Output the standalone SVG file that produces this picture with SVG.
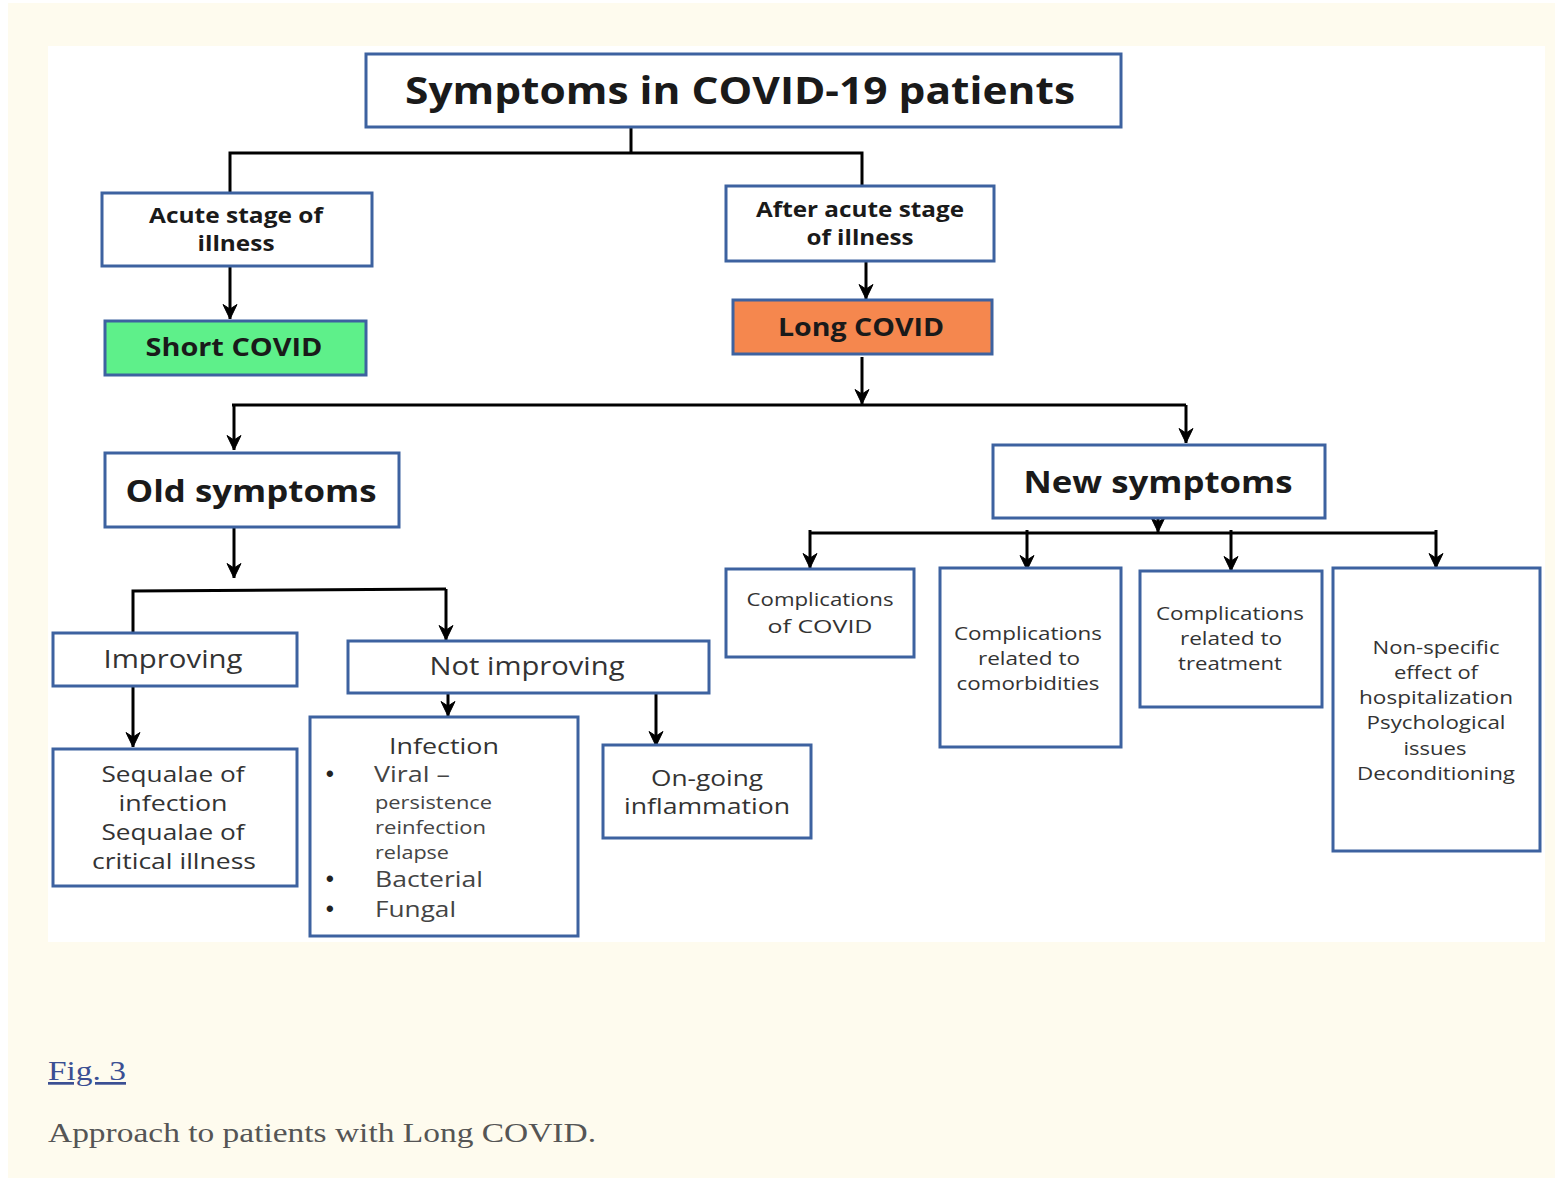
<svg xmlns="http://www.w3.org/2000/svg" width="1555" height="1178" viewBox="0 0 1555 1178">
<defs>
<marker id="ah" markerWidth="16" markerHeight="16" refX="15" refY="8" orient="auto" markerUnits="userSpaceOnUse" viewBox="0 0 16 16">
<path d="M0.5,1 L15,8 L0.5,15 L5,8 Z" fill="#000" stroke="#000" stroke-width="1" stroke-linejoin="round"/>
</marker>
<style>
.box{fill:#fff;stroke:#3d62a0;stroke-width:3}
.c{fill:none;stroke:#000;stroke-width:3}
.a{fill:none;stroke:#000;stroke-width:3;marker-end:url(#ah)}
.b{font-family:"Open Sans","Liberation Sans",sans-serif;font-weight:bold;fill:#1a1a1a;text-anchor:middle}
.r{font-family:"Open Sans","Liberation Sans",sans-serif;fill:#333;text-anchor:middle}
.s{font-family:"Open Sans","Liberation Sans",sans-serif;fill:#444}
.d{font-family:"Liberation Sans",sans-serif;font-weight:bold;fill:#222}
</style>
</defs>
<rect x="0" y="0" width="1555" height="1178" fill="#fff"/>
<rect x="8" y="3" width="1547" height="1175" fill="#fefbee"/>
<rect x="48" y="46" width="1497" height="896" fill="#fff"/>

<g id="connectors">
<path class="c" d="M631,127 V153 M230,192 V153 H862 V186"/>
<path class="a" d="M230,266 V319"/>
<path class="a" d="M866,261 V299"/>
<path class="a" d="M862,357 V404"/>
<path class="c" d="M232,405 H1186"/>
<path class="a" d="M234,405 V450"/>
<path class="a" d="M1186,405 V443"/>
<path class="a" d="M234,527 V578"/>
<path class="c" d="M133,632 V591 L446,589"/>
<path class="a" d="M446,589 V640"/>
<path class="a" d="M133,686 V747"/>
<path class="a" d="M448,693 V716"/>
<path class="a" d="M656,693 V746"/>
<path class="a" d="M1158,518 V532"/>
<path class="c" d="M810,533 H1436"/>
<path class="a" d="M810,530 V568"/>
<path class="a" d="M1027,530 V570"/>
<path class="a" d="M1231,530 V571"/>
<path class="a" d="M1436,530 V568"/>
</g>

<g id="n-title">
<rect class="box" x="366" y="54" width="755" height="73"/>
<text class="b" x="740" y="104" font-size="38" textLength="670" lengthAdjust="spacingAndGlyphs">Symptoms in COVID-19 patients</text>
</g>
<g id="n-acute">
<rect class="box" x="102" y="193" width="270" height="73"/>
<text class="b" x="236" y="223" font-size="21" textLength="174" lengthAdjust="spacingAndGlyphs">Acute stage of</text>
<text class="b" x="236" y="251" font-size="21" textLength="77" lengthAdjust="spacingAndGlyphs">illness</text>
</g>
<g id="n-after">
<rect class="box" x="726" y="186" width="268" height="75"/>
<text class="b" x="860" y="217" font-size="21" textLength="208" lengthAdjust="spacingAndGlyphs">After acute stage</text>
<text class="b" x="860" y="245" font-size="21" textLength="107" lengthAdjust="spacingAndGlyphs">of illness</text>
</g>
<g id="n-short">
<rect x="105" y="321" width="261" height="54" fill="#5ef08a" stroke="#3d62a0" stroke-width="3"/>
<text class="b" x="234" y="356" font-size="25" textLength="177" lengthAdjust="spacingAndGlyphs">Short COVID</text>
</g>
<g id="n-long">
<rect x="733" y="300" width="259" height="54" fill="#f5874e" stroke="#3d62a0" stroke-width="3"/>
<text class="b" x="861" y="336" font-size="25" textLength="166" lengthAdjust="spacingAndGlyphs">Long COVID</text>
</g>
<g id="n-old">
<rect class="box" x="105" y="453" width="294" height="74"/>
<text class="b" x="251" y="502" font-size="31" textLength="251" lengthAdjust="spacingAndGlyphs">Old symptoms</text>
</g>
<g id="n-new">
<rect class="box" x="993" y="445" width="332" height="73"/>
<text class="b" x="1158" y="493" font-size="31" textLength="269" lengthAdjust="spacingAndGlyphs">New symptoms</text>
</g>
<g id="n-improving">
<rect class="box" x="53" y="633" width="244" height="53"/>
<text class="r" x="173" y="668" font-size="25" fill="#222" textLength="139" lengthAdjust="spacingAndGlyphs">Improving</text>
</g>
<g id="n-notimproving">
<rect class="box" x="348" y="641" width="361" height="52"/>
<text class="r" x="527" y="675" font-size="25" fill="#222" textLength="195" lengthAdjust="spacingAndGlyphs">Not improving</text>
</g>
<g id="n-sequalae">
<rect class="box" x="53" y="749" width="244" height="137"/>
<text class="r" x="173" y="782" font-size="22" textLength="143" lengthAdjust="spacingAndGlyphs">Sequalae of</text>
<text class="r" x="173" y="811" font-size="22" textLength="109" lengthAdjust="spacingAndGlyphs">infection</text>
<text class="r" x="173" y="840" font-size="22" textLength="143" lengthAdjust="spacingAndGlyphs">Sequalae of</text>
<text class="r" x="174" y="869" font-size="22" textLength="164" lengthAdjust="spacingAndGlyphs">critical illness</text>
</g>
<g id="n-infection">
<rect class="box" x="310" y="717" width="268" height="219"/>
<text class="r" x="444" y="754" font-size="22" textLength="110" lengthAdjust="spacingAndGlyphs">Infection</text>
<text class="d" x="326" y="781" font-size="22">•</text>
<text class="s" x="374" y="782" font-size="22" textLength="76" lengthAdjust="spacingAndGlyphs">Viral –</text>
<text class="s" x="375" y="809" font-size="18" textLength="117" lengthAdjust="spacingAndGlyphs">persistence</text>
<text class="s" x="375" y="834" font-size="18" textLength="111" lengthAdjust="spacingAndGlyphs">reinfection</text>
<text class="s" x="375" y="859" font-size="18" textLength="74" lengthAdjust="spacingAndGlyphs">relapse</text>
<text class="d" x="326" y="886" font-size="22">•</text>
<text class="s" x="375" y="887" font-size="22" textLength="108" lengthAdjust="spacingAndGlyphs">Bacterial</text>
<text class="d" x="326" y="916" font-size="22">•</text>
<text class="s" x="375" y="917" font-size="22" textLength="81" lengthAdjust="spacingAndGlyphs">Fungal</text>
</g>
<g id="n-ongoing">
<rect class="box" x="603" y="745" width="208" height="93"/>
<text class="r" x="707" y="786" font-size="22" textLength="112" lengthAdjust="spacingAndGlyphs">On-going</text>
<text class="r" x="707" y="814" font-size="22" textLength="166" lengthAdjust="spacingAndGlyphs">inflammation</text>
</g>
<g id="n-compcovid">
<rect class="box" x="726" y="569" width="188" height="88"/>
<text class="r" x="820" y="606" font-size="19" textLength="147" lengthAdjust="spacingAndGlyphs">Complications</text>
<text class="r" x="820" y="633" font-size="19" textLength="105" lengthAdjust="spacingAndGlyphs">of COVID</text>
</g>
<g id="n-comorb">
<rect class="box" x="940" y="568" width="181" height="179"/>
<text class="r" x="1028" y="640" font-size="18" textLength="148" lengthAdjust="spacingAndGlyphs">Complications</text>
<text class="r" x="1029" y="665" font-size="18" textLength="102" lengthAdjust="spacingAndGlyphs">related to</text>
<text class="r" x="1028" y="690" font-size="18" textLength="143" lengthAdjust="spacingAndGlyphs">comorbidities</text>
</g>
<g id="n-treatment">
<rect class="box" x="1140" y="571" width="182" height="136"/>
<text class="r" x="1230" y="620" font-size="18" textLength="148" lengthAdjust="spacingAndGlyphs">Complications</text>
<text class="r" x="1231" y="645" font-size="18" textLength="102" lengthAdjust="spacingAndGlyphs">related to</text>
<text class="r" x="1230" y="670" font-size="18" textLength="104" lengthAdjust="spacingAndGlyphs">treatment</text>
</g>
<g id="n-nonspecific">
<rect class="box" x="1333" y="568" width="207" height="283"/>
<text class="r" x="1436" y="654" font-size="18" textLength="127" lengthAdjust="spacingAndGlyphs">Non-specific</text>
<text class="r" x="1436" y="679" font-size="18" textLength="84" lengthAdjust="spacingAndGlyphs">effect of</text>
<text class="r" x="1436" y="704" font-size="18" textLength="154" lengthAdjust="spacingAndGlyphs">hospitalization</text>
<text class="r" x="1436" y="729" font-size="18" textLength="139" lengthAdjust="spacingAndGlyphs">Psychological</text>
<text class="r" x="1435" y="755" font-size="18" textLength="63" lengthAdjust="spacingAndGlyphs">issues</text>
<text class="r" x="1436" y="780" font-size="18" textLength="158" lengthAdjust="spacingAndGlyphs">Deconditioning</text>
</g>

<g id="caption">
<text x="48" y="1080" font-family="'Liberation Serif',serif" font-size="27" fill="#3b4f93" text-decoration="underline" textLength="78" lengthAdjust="spacingAndGlyphs">Fig. 3</text>
<text x="48" y="1142" font-family="'Liberation Serif',serif" font-size="27" fill="#555" textLength="548" lengthAdjust="spacingAndGlyphs">Approach to patients with Long COVID.</text>
</g>
</svg>
